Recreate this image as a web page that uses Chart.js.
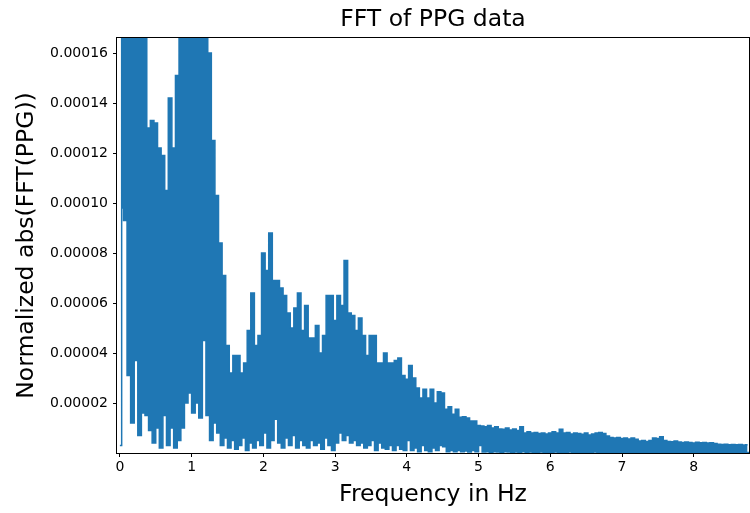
<!DOCTYPE html>
<html>
<head>
<meta charset="utf-8">
<script src="https://cdn.jsdelivr.net/npm/chart.js@4.4.1/dist/chart.umd.min.js"></script>
<style>
  html, body { margin: 0; padding: 0; background: #fff; }
  #wrap { width: 750px; height: 513px; position: relative; }
</style>
</head>
<body>
<div id="wrap"><canvas id="fftChart"></canvas></div>
<script>
// spectrum, in units of 1e-5, one bin every 0.05 Hz
// peakMag = top of each bin, troughMag = bottom half a bin later
const binStep = 0.05;
const peakMag = [
    0.3, 30, 28, 26, 24, 22, 20, 19, 13.0, 13.3,
    13.2, 12.2, 11.9, 10.5, 14.2, 12.2, 15.1, 30, 32, 35,
    30, 33, 28, 26, 22, 16, 12.5, 10.3, 8.4, 7.1,
    4.3, 3.2, 3.9, 3.9, 3.2, 3.6, 4.9, 6.4, 4.3, 4.7,
    8.0, 7.3, 8.8, 6.9, 6.9, 6.6, 6.3, 5.6, 5.0, 5.8,
    6.4, 4.9, 5.9, 4.6, 4.6, 5.1, 4.0, 4.7, 6.3, 6.3,
    5.3, 6.3, 5.9, 7.7, 5.6, 5.5, 4.9, 5.4, 4.7, 3.9,
    4.7, 4.7, 3.6, 3.6, 4.0, 3.6, 3.6, 3.7, 3.8, 3.1,
    2.95, 3.5, 3.0, 2.6, 2.2, 2.55, 2.2, 2.55, 2.0, 2.45,
    2.4, 1.75, 1.85, 1.55, 1.75, 1.43, 1.45, 1.4, 1.28, 1.28,
    1.1, 1.08, 1.05, 1.1, 1.0, 1.05, 0.96, 0.95, 1.0, 0.92,
    0.96, 0.9, 1.05, 0.8, 0.85, 0.8, 0.82, 0.78, 0.8, 0.76,
    0.8, 0.85, 0.8, 0.95, 0.8, 0.82, 0.76, 0.8, 0.78, 0.75,
    0.8, 0.72, 0.76, 0.8, 0.82, 0.78, 0.68, 0.62, 0.6, 0.62,
    0.58, 0.6, 0.56, 0.6, 0.55, 0.48, 0.5, 0.46, 0.5, 0.6,
    0.58, 0.65, 0.5, 0.46, 0.45, 0.48, 0.44, 0.42, 0.44, 0.42,
    0.4, 0.43, 0.41, 0.42, 0.4, 0.41, 0.38, 0.35, 0.34, 0.35,
    0.33, 0.34, 0.33, 0.34, 0.32, 0.33
];
const troughMag = [
    9.8, 9.3, 3.1, 1.2, 3.7, 0.7, 1.6, 1.5, 0.9, 0.4,
    1.0, 0.2, 1.5, 0.3, 1.0, 0.2, 0.5, 1.0, 2.0, 2.4,
    1.6, 2.0, 1.4, 4.5, 1.5, 0.5, 1.2, 0.8, 0.3, 0.6,
    0.2, 0.5, 0.15, 0.3, 0.6, 0.1, 0.4, 0.2, 0.5, 0.3,
    0.8, 0.2, 0.5, 1.35, 0.4, 0.2, 0.6, 0.3, 0.7, 0.2,
    0.5, 0.3, 0.2, 0.5, 0.3, 0.4, 0.15, 0.6, 0.3, 0.1,
    0.4, 0.8, 0.5, 0.7, 0.4, 0.5, 0.3, 0.4, 0.2, 0.3,
    0.5, 0.1, 0.4, 0.2, 0.15, 0.3, 0.1, 0.3, 0.15, 0.1,
    0.5, 0.1, 0.2, 0.05, 0.3, 0.1, 0.05, 0.2, 0.1, 0.3,
    0.25, 0.05, 0.1, 0.05, 0.1, 0.05, 0.08, 0.04, 0.1, 0.05,
    0.3, 0.04, 0.05, 0.03, 0.05, 0.04, 0.03, 0.05, 0.04, 0.03,
    0.04, 0.03, 0.05, 0.02, 0.04, 0.03, 0.02, 0.04, 0.03, 0.02,
    0.03, 0.04, 0.02, 0.03, 0.02, 0.04, 0.03, 0.02, 0.03, 0.02,
    0.03, 0.02, 0.04, 0.02, 0.03, 0.02, 0.03, 0.02, 0.02, 0.03,
    0.02, 0.03, 0.02, 0.02, 0.03, 0.02, 0.02, 0.03, 0.02, 0.02,
    0.03, 0.02, 0.02, 0.02, 0.03, 0.02, 0.02, 0.02, 0.02, 0.03,
    0.02, 0.02, 0.02, 0.02, 0.02, 0.02, 0.02, 0.02, 0.02, 0.02,
    0.02, 0.02, 0.02, 0.02, 0.02, 0.02
];
const xTicks = [0, 1, 2, 3, 4, 5, 6, 7, 8];
const yTicks = [0.00002, 0.00004, 0.00006, 0.00008, 0.00010, 0.00012, 0.00014, 0.00016];
const chartTitle = 'FFT of PPG data';

const lineColor = '#1f77b4';
const peakPts = peakMag.map((v, i) => ({ x: i * binStep, y: v * 1e-5 }));
const troughPts = troughMag.map((v, i) => ({ x: i * binStep + binStep / 2, y: v * 1e-5 }));

// matplotlib style frame on all four sides, title centred over the axes
const framePlugin = {
    id: 'frame',
    afterDraw(chart) {
        const a = chart.chartArea;
        const c = chart.ctx;
        c.save();
        c.strokeStyle = '#000';
        c.lineWidth = 1;
        c.strokeRect(Math.round(a.left) - 0.5, Math.round(a.top) - 0.5, Math.round(a.right - a.left) + 1, Math.round(a.bottom - a.top) + 1);
        c.fillStyle = '#000';
        c.font = '23.5px "DejaVu Sans"';
        c.textAlign = 'center';
        c.textBaseline = 'middle';
        c.fillText(chartTitle, (a.left + a.right) / 2, 20);
        c.restore();
    }
};

const tickFont = { family: 'DejaVu Sans', size: 14 };
const labelFont = { family: 'DejaVu Sans', size: 23.5 };

new Chart(document.getElementById('fftChart'), {
    type: 'line',
    data: {
        datasets: [
            { data: peakPts, borderColor: lineColor, backgroundColor: lineColor, borderWidth: 1.5, pointRadius: 0, stepped: 'middle', fill: '+1' },
            { data: troughPts, borderColor: lineColor, backgroundColor: lineColor, borderWidth: 1.5, pointRadius: 0, stepped: 'middle', fill: false }
        ]
    },
    options: {
        responsive: true,
        maintainAspectRatio: false,
        animation: false,
        layout: { padding: { left: 0, right: 1, top: 38, bottom: 0 } },
        plugins: {
            legend: { display: false },
            tooltip: { enabled: false },
            title: { display: false }
        },
        scales: {
            x: {
                type: 'linear', min: -0.04, max: 8.77,
                afterBuildTicks: s => { s.ticks = xTicks.map(v => ({ value: v })); },
                afterFit: s => { s.height = 60; },
                border: { display: false },
                grid: { display: true, drawOnChartArea: false, drawTicks: true, tickLength: 4, color: '#000' },
                ticks: { color: '#000', font: tickFont, padding: 2, maxRotation: 0, callback: v => String(v) },
                title: { display: true, text: 'Frequency in Hz', color: '#000', font: labelFont, padding: { top: 0, bottom: 4 } }
            },
            y: {
                type: 'linear', min: 0.00000005, max: 0.000166,
                afterBuildTicks: s => { s.ticks = yTicks.map(v => ({ value: v })); },
                afterFit: s => { s.width = 117; },
                border: { display: false },
                grid: { display: true, drawOnChartArea: false, drawTicks: true, tickLength: 4, color: '#000' },
                ticks: { color: '#000', font: tickFont, padding: 5, callback: v => v.toFixed(5) },
                title: { display: true, text: 'Normalized abs(FFT(PPG))', color: '#000', font: labelFont, padding: { top: 13, bottom: 0 } }
            }
        }
    },
    plugins: [framePlugin]
});
</script>
</body>
</html>
